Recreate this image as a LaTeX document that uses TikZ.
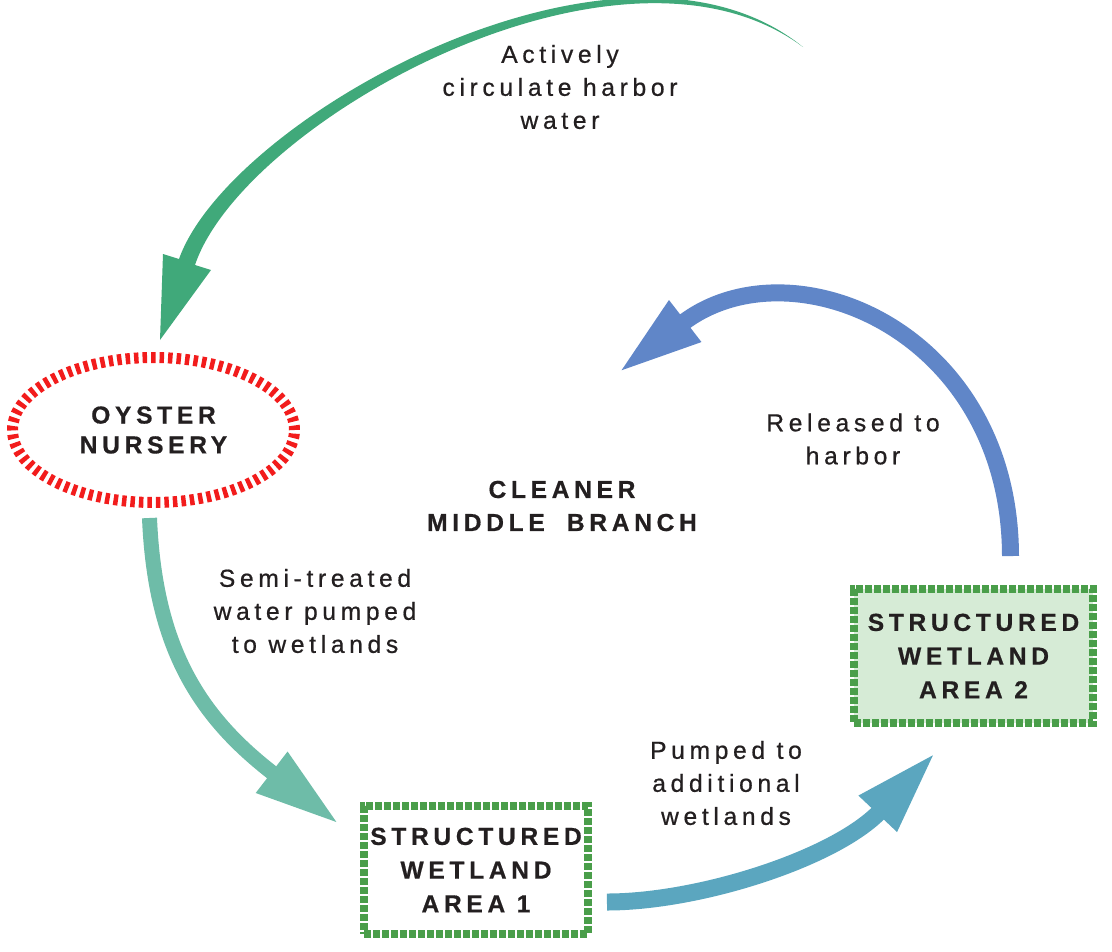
\documentclass[tikz,border=0pt]{standalone}
\usepackage{fontspec}
\setmainfont{Liberation Sans}[LetterSpace=19, UprightFeatures={FakeBold=0.7}, BoldFeatures={FakeBold=0.6}]
\usetikzlibrary{arrows.meta, calc, positioning, shapes.geometric}

\definecolor{harborgreen}{HTML}{40A97A}
\definecolor{pumpteal}{HTML}{6EBCA8}
\definecolor{flowblue}{HTML}{5BA6BF}
\definecolor{releaseblue}{HTML}{6086C8}
\definecolor{nurseryred}{HTML}{F21C1C}
\definecolor{wetgreen}{HTML}{4A9E4A}
\definecolor{wetfill}{HTML}{D6EBD6}
\definecolor{inktext}{HTML}{231F20}

\tikzset{
  labeltext/.style={font=\fontsize{14}{18.8}\selectfont, align=center, text=inktext},
  titletext/.style={font=\fontsize{14}{18.8}\selectfont\bfseries, align=center, text=inktext},
  wetland/.style={rectangle, draw=wetgreen, line width=0.16cm, dash pattern=on 0.14cm off 0.04cm,
    minimum width=4.48cm, minimum height=2.56cm, inner sep=0pt, titletext,
    font=\fontsize{14}{19.2}\selectfont\bfseries},
  flow/.style={line width=0.32cm, -{Triangle[length=1.7cm, width=0.95cm]}},
}

\begin{document}
\begin{tikzpicture}[x=0.02cm, y=-0.02cm]

\useasboundingbox (0,0) rectangle (1112,951);

% Oyster nursery (red dashed ring)
\node[ellipse, draw=nurseryred, line width=0.22cm, dash pattern=on 0.09cm off 0.08cm,
  minimum width=5.64cm, minimum height=2.9cm, titletext,
  font=\fontsize{14}{17}\selectfont\bfseries] (nursery) at (153.5,430) {OYSTER\\NURSERY};

% Wetland areas
\node[wetland, fill=white] (area1) at (476,870) {STRUCTURED\\WETLAND\\AREA 1};
\node[wetland, fill=wetfill, minimum width=4.78cm, minimum height=2.68cm] (area2) at (973.5,656) {STRUCTURED\\WETLAND\\AREA 2};

% Harbor water intake: tapered green arrow
\coordinate (intake) at (803,47);
\fill[harborgreen] (intake) .. controls (620,-101) and (229,118) .. (179,259)
    -- (163,254) -- (160,340) -- (211,270) -- (195,265)
    .. controls (243,122) and (620,-89) .. (intake) -- cycle;

% Nursery -> wetland area 1
\draw[flow, pumpteal, line width=0.3cm] ($(nursery.south)+(-4,10)$)
    .. controls (155,650) and (201,718) .. ($(area1.north west)+(-21,22)$);

% Wetland area 1 -> wetland area 2
\draw[flow, flowblue, line width=0.34cm] ($(area1.east)+(15,32)$)
    .. controls (700,902) and (836,858) .. ($(area2.south west)+(86,25)$);

% Wetland area 2 -> released to harbor
\coordinate (harbor) at (618,373);
\draw[flow, releaseblue, line width=0.34cm] ($(area2.north)+(37,-29)$)
    .. controls (1010,330) and (790,240) .. (harbor);

% Labels
\node[labeltext] (actively) at (560,87) {Actively\\circulate harbor\\water};
\node[labeltext] (released) at (853,439) {Released to\\harbor};
\node[titletext] (cleaner) at (562,506) {CLEANER\\MIDDLE\hspace{0.9em}BRANCH};
\node[labeltext] (semi) at (315,611) {Semi-treated\\water pumped\\to wetlands};
\node[labeltext] (pumped) at (726,783) {Pumped to\\additional\\wetlands};

\end{tikzpicture}
\end{document}
